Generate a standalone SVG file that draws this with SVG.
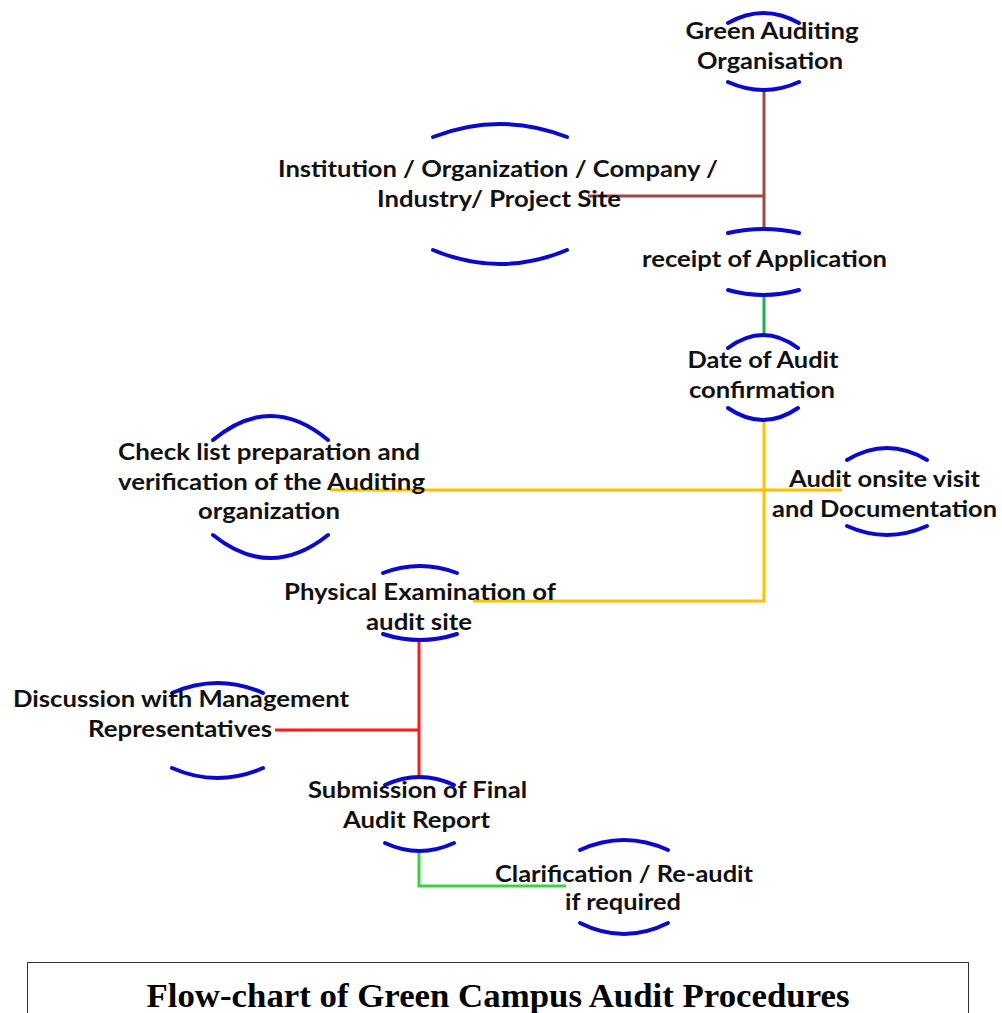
<svg xmlns="http://www.w3.org/2000/svg" width="1002" height="1013" viewBox="0 0 1002 1013">
<style>
.lbl{font-family:Lato,"Open Sans","Liberation Sans",sans-serif;font-weight:bold;font-size:23px;fill:#111;text-anchor:middle}
.arc{fill:none;stroke:#0A0ACC;stroke-width:4;stroke-linecap:round}
.con{fill:none;stroke-width:3}
.brown{stroke:#A04545}
.green1{stroke:#1FB04E}
.orange{stroke:#FFC000}
.red{stroke:#FF1A1A}
.green2{stroke:#3AD33A}
.cap{font-family:"Liberation Serif","Times New Roman",serif;font-weight:bold;font-size:34px;fill:#000;text-anchor:middle}
</style>
<rect width="1002" height="1013" fill="#fff"/>
<g id="connectors">
<path class="con brown" d="M764 90 V230 M588 196 H764"/>
<path class="con green1" d="M764 295 V336"/>
<path class="con orange" d="M764 420 V601 H473 M330 490 H842"/>
<path class="con red" d="M419 640 V778 M275 730 H419"/>
<path class="con green2" d="M419 851 V886 H566"/>
</g>
<g id="node-green-auditing">
<path class="arc" d="M728 23 Q763.5 3 799 23"/>
<path class="arc" d="M728 82 Q763.5 98 799 82"/>
<text class="lbl" x="772" y="39" textLength="173" lengthAdjust="spacingAndGlyphs">Green Auditing</text>
<text class="lbl" x="770" y="69" textLength="146" lengthAdjust="spacingAndGlyphs">Organisation</text>
</g>
<g id="node-institution">
<path class="arc" d="M433 137 Q500 111 567 137"/>
<path class="arc" d="M433 250 Q500 278 567 250"/>
<text class="lbl" x="498" y="177" textLength="440" lengthAdjust="spacingAndGlyphs">Institution / Organization / Company /</text>
<text class="lbl" x="499" y="207" textLength="244" lengthAdjust="spacingAndGlyphs">Industry/ Project Site</text>
</g>
<g id="node-receipt">
<path class="arc" d="M728 233 Q763.5 225 799 233"/>
<path class="arc" d="M728 290 Q763.5 300 799 290"/>
<text class="lbl" x="764.5" y="267" textLength="245" lengthAdjust="spacingAndGlyphs">receipt of Application</text>
</g>
<g id="node-date">
<path class="arc" d="M728 348 Q763 322 798 348"/>
<path class="arc" d="M728 408 Q763 432 798 408"/>
<text class="lbl" x="763" y="368" textLength="151" lengthAdjust="spacingAndGlyphs">Date of Audit</text>
<text class="lbl" x="762" y="398" textLength="146" lengthAdjust="spacingAndGlyphs">confirmation</text>
</g>
<g id="node-checklist">
<path class="arc" d="M213 440 Q270.5 392 328 440"/>
<path class="arc" d="M213 535 Q270.5 581 328 535"/>
<text class="lbl" x="269" y="460" textLength="302" lengthAdjust="spacingAndGlyphs">Check list preparation and</text>
<text class="lbl" x="271.5" y="490" textLength="307" lengthAdjust="spacingAndGlyphs">verification of the Auditing</text>
<text class="lbl" x="269" y="519" textLength="142" lengthAdjust="spacingAndGlyphs">organization</text>
</g>
<g id="node-onsite">
<path class="arc" d="M847 460 Q887 436 927 460"/>
<path class="arc" d="M847 526 Q887 544 927 526"/>
<text class="lbl" x="884.5" y="487" textLength="191" lengthAdjust="spacingAndGlyphs">Audit onsite visit</text>
<text class="lbl" x="884.5" y="517" textLength="225" lengthAdjust="spacingAndGlyphs">and Documentation</text>
</g>
<g id="node-physical">
<path class="arc" d="M383 573 Q420 559 457 573"/>
<path class="arc" d="M383 634 Q420 646 457 634"/>
<text class="lbl" x="420" y="600" textLength="272" lengthAdjust="spacingAndGlyphs">Physical Examination of</text>
<text class="lbl" x="419" y="630" textLength="106" lengthAdjust="spacingAndGlyphs">audit site</text>
</g>
<g id="node-discussion">
<path class="arc" d="M172 693 Q217.5 673 263 693"/>
<path class="arc" d="M172 768 Q217.5 788 263 768"/>
<text class="lbl" x="181" y="707" textLength="336" lengthAdjust="spacingAndGlyphs">Discussion with Management</text>
<text class="lbl" x="180" y="737" textLength="184" lengthAdjust="spacingAndGlyphs">Representatives</text>
</g>
<g id="node-submission">
<path class="arc" d="M385 785 Q419.5 769 454 785"/>
<path class="arc" d="M385 843 Q419.5 859 454 843"/>
<text class="lbl" x="417.5" y="798" textLength="219" lengthAdjust="spacingAndGlyphs">Submission of Final</text>
<text class="lbl" x="416.5" y="828" textLength="147" lengthAdjust="spacingAndGlyphs">Audit Report</text>
</g>
<g id="node-clarification">
<path class="arc" d="M580 850 Q624 830 668 850"/>
<path class="arc" d="M580 923 Q624 945 668 923"/>
<text class="lbl" x="624" y="882" textLength="258" lengthAdjust="spacingAndGlyphs">Clarification / Re-audit</text>
<text class="lbl" x="623" y="910" textLength="116" lengthAdjust="spacingAndGlyphs">if required</text>
</g>
<g id="caption">
<rect x="27.5" y="962.5" width="941" height="70" fill="none" stroke="#333" stroke-width="1"/>
<text class="cap" x="498" y="1007" textLength="703" lengthAdjust="spacingAndGlyphs">Flow-chart of Green Campus Audit Procedures</text>
</g>
</svg>
